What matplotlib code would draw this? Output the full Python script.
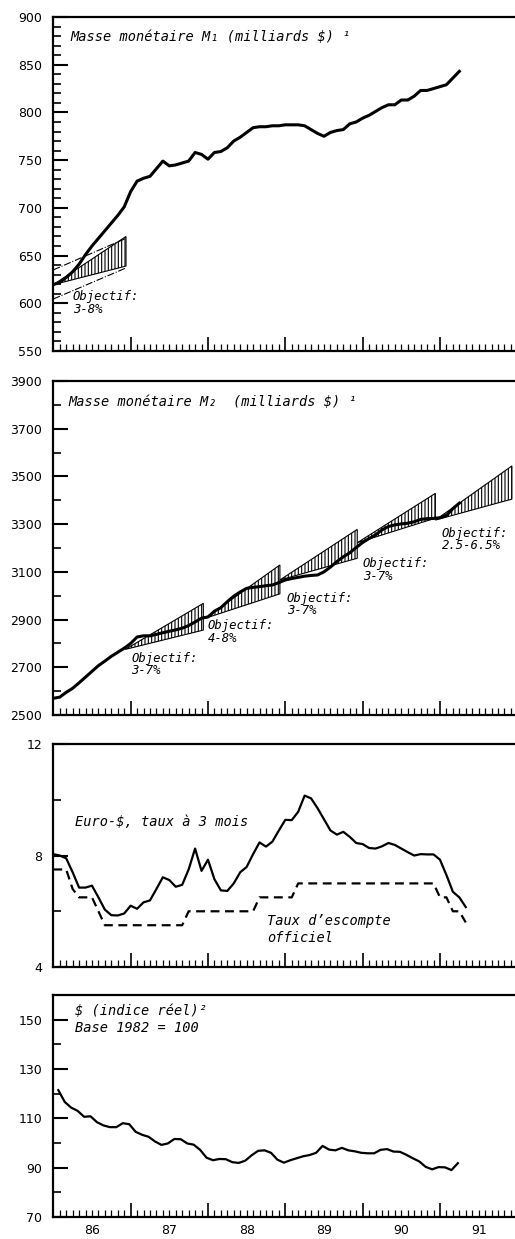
import matplotlib
matplotlib.use("Agg")
import matplotlib.pyplot as plt
import matplotlib.transforms as mtransforms
import numpy as np
from matplotlib.ticker import MultipleLocator, FixedLocator

# Monthly series, first value = January 1986
m1_values = [619.5, 622, 627, 633, 641, 651, 660, 668, 676, 684, 692, 701,
             717, 728, 731, 733, 741, 749, 744, 745, 747, 749, 758, 756,
             751, 758, 759, 763, 770, 774, 779, 784, 785, 785, 786, 786,
             787, 787, 787, 786, 782, 778, 775, 779, 781, 782, 788, 790,
             794, 797, 801, 805, 808, 808, 813, 813, 817, 823, 823, 825,
             827, 829, 836, 843]

m2_values = [2570, 2575, 2595, 2612, 2635, 2659, 2683, 2707, 2726, 2746, 2763, 2780,
             2800, 2827, 2832, 2832, 2838, 2845, 2851, 2857, 2864, 2875, 2890, 2906,
             2911, 2935, 2950, 2975, 2998, 3016, 3031, 3035, 3038, 3042, 3045, 3055,
             3066, 3072, 3077, 3082, 3085, 3087, 3100, 3120, 3143, 3163, 3180, 3202,
             3223, 3240, 3255, 3276, 3290, 3297, 3301, 3304, 3310, 3320, 3323, 3324,
             3327, 3336, 3365, 3388]

eurodollar_3m = [8.05, 8.0, 7.9, 7.4, 6.85, 6.85, 6.92, 6.5, 6.06, 5.86, 5.85, 5.92,
                 6.2, 6.09, 6.32, 6.39, 6.8, 7.22, 7.12, 6.88, 6.95, 7.5, 8.25, 7.45,
                 7.85, 7.15, 6.75, 6.73, 7.0, 7.4, 7.59, 8.05, 8.47, 8.32, 8.5, 8.9,
                 9.28, 9.27, 9.57, 10.15, 10.05, 9.7, 9.3, 8.9, 8.75, 8.85, 8.67, 8.45,
                 8.41, 8.27, 8.25, 8.33, 8.45, 8.38, 8.25, 8.12, 8.0, 8.05, 8.04, 8.04,
                 7.85, 7.3, 6.7, 6.5, 6.15]

discount_rate = [7.5, 7.5, 7.5, 6.8, 6.5, 6.5, 6.5, 6.0, 5.5, 5.5, 5.5, 5.5,
                 5.5, 5.5, 5.5, 5.5, 5.5, 5.5, 5.5, 5.5, 5.5, 6.0, 6.0, 6.0,
                 6.0, 6.0, 6.0, 6.0, 6.0, 6.0, 6.0, 6.0, 6.5, 6.5, 6.5, 6.5,
                 6.5, 6.5, 7.0, 7.0, 7.0, 7.0, 7.0, 7.0, 7.0, 7.0, 7.0, 7.0,
                 7.0, 7.0, 7.0, 7.0, 7.0, 7.0, 7.0, 7.0, 7.0, 7.0, 7.0, 7.0,
                 6.5, 6.5, 6.0, 6.0, 5.6]

# real dollar index, starts early February 1986
dollar_real_index = [121.4, 116.6, 114.3, 113.0, 110.6, 110.8, 108.4, 107.1, 106.4, 106.4,
                     108.0, 107.6, 104.5, 103.3, 102.5, 100.6, 99.2, 99.8, 101.6, 101.5,
                     99.8, 99.3, 97.2, 94.0, 93.0, 93.5, 93.4, 92.2, 91.9, 92.8,
                     95.0, 96.8, 97.0, 96.0, 93.2, 92.0, 93.0, 93.8, 94.6, 95.1,
                     96.0, 98.8, 97.3, 97.0, 98.0, 97.0, 96.6, 96.0, 95.8, 95.8,
                     97.2, 97.5, 96.5, 96.4, 95.2, 93.8, 92.5, 90.3, 89.3, 90.2,
                     90.1, 89.0, 91.8]

# M1 target cone 1986 and tunnel
m1_cone_x = [1986.0, 1986.94]
m1_cone_base = 619.5
m1_cone_upper = 670
m1_cone_lower = 639
m1_tunnel_upper = [635, 668]
m1_tunnel_lower = [604.5, 637]

# M2 target cones
m2_cone_start = [1986.93, 1987.96, 1988.93, 1989.93, 1990.94]
m2_cone_end = [1987.94, 1988.93, 1989.93, 1990.94, 1991.93]
m2_cone_base = [2775, 2905, 3066, 3222, 3317]
m2_cone_upper = [2968, 3129, 3278, 3429, 3544]
m2_cone_lower = [2856, 3008, 3157, 3325, 3405]
m2_cone_labels = ["3-7%", "4-8%", "3-7%", "3-7%", "2.5-6.5%"]

year_labels = ["86", "87", "88", "89", "90", "91"]

TXT = dict(family="DejaVu Sans Mono", style="oblique", fontsize=8.8)
TITLE = dict(family="DejaVu Sans Mono", style="oblique", fontsize=9.8)
plt.rcParams["hatch.linewidth"] = 0.8
plt.rcParams["font.family"] = "DejaVu Sans"


def months(series, start=1986.0):
    return start + np.arange(len(series)) / 12.0


def style_axis(ax, ylim, major, minor):
    ax.set_xlim(1986, 1991.97)
    ax.set_ylim(*ylim)
    ax.spines["right"].set_visible(False)
    for s in ("left", "top", "bottom"):
        ax.spines[s].set_linewidth(1.6)
    ax.xaxis.set_major_locator(MultipleLocator(1))
    ax.xaxis.set_minor_locator(MultipleLocator(1 / 12))
    ax.tick_params(axis="x", which="both", direction="in", labelbottom=False)
    ax.tick_params(axis="x", which="major", length=10, width=1.2)
    ax.tick_params(axis="x", which="minor", length=5, width=0.9)
    ax.yaxis.set_major_locator(FixedLocator(major))
    ax.yaxis.set_minor_locator(MultipleLocator(minor))
    ax.tick_params(axis="y", which="major", direction="in", length=11,
                   width=1.5, pad=8, labelsize=9)
    ax.tick_params(axis="y", which="minor", direction="in", length=6, width=1.2)


fig = plt.figure(figsize=(5.15, 12.39), dpi=100)
L, W = 0.1035, 0.8965
ax1 = fig.add_axes([L, 0.7167, W, 0.2696])
ax2 = fig.add_axes([L, 0.4229, W, 0.2696])
ax3 = fig.add_axes([L, 0.2195, W, 0.1800])
ax4 = fig.add_axes([L, 0.0178, W, 0.1792])

# --- M1
style_axis(ax1, (550, 900), np.arange(550, 901, 50), 10)
ax1.fill([m1_cone_x[0], m1_cone_x[1], m1_cone_x[1]],
         [m1_cone_base, m1_cone_upper, m1_cone_lower],
         facecolor="none", edgecolor="black", hatch="|||||", lw=0.8)
ax1.plot(m1_cone_x, m1_tunnel_upper, color="black", lw=0.8, ls="-.")
ax1.plot(m1_cone_x, m1_tunnel_lower, color="black", lw=0.8, ls="-.")
ax1.plot(months(m1_values), m1_values, color="black", lw=2.2)
ax1.text(1986.22, 886, "Masse monétaire M\u2081 (milliards $) \u00b9",
         va="top", ha="left", **TITLE)
ax1.text(1986.25, 614, "Objectif:\n3-8%", va="top", ha="left",
         linespacing=1.0, **TXT)

# --- M2
style_axis(ax2, (2500, 3900), np.arange(2500, 3901, 200), 100)
for x0, x1, b, up, lo in zip(m2_cone_start, m2_cone_end, m2_cone_base,
                             m2_cone_upper, m2_cone_lower):
    ax2.fill([x0, x1, x1], [b, up, lo], facecolor="none", edgecolor="black",
             hatch="|||||", lw=0.8)
ax2.plot(months(m2_values), m2_values, color="black", lw=2.2)
label_pos = [(1987.01, 2765), (1988.0, 2902), (1989.02, 3017),
             (1990.0, 3162), (1991.02, 3289)]
for (lx, ly), lab in zip(label_pos, m2_cone_labels):
    ax2.text(lx, ly, "Objectif:\n" + lab, va="top", ha="left",
             linespacing=0.95, **TXT)
ax2.text(1986.2, 3842, "Masse monétaire M\u2082  (milliards $) \u00b9",
         va="top", ha="left", **TITLE)

# --- interest rates
style_axis(ax3, (4, 12), [4, 8, 12], 2)
ax3.plot(months(eurodollar_3m), eurodollar_3m, color="black", lw=1.6)
ax3.plot(months(discount_rate), discount_rate, color="black", lw=1.6,
         dashes=(4, 2.5))
ax3.text(1986.28, 9.45, "Euro-$, taux à 3 mois", va="top", ha="left", **TITLE)
ax3.text(1988.76, 5.9, "Taux d\u2019escompte\nofficiel", va="top", ha="left",
         linespacing=1.25, **TITLE)

# --- real dollar
style_axis(ax4, (70, 160), np.arange(70, 151, 20), 10)
ax4.plot(months(dollar_real_index, 1986.065), dollar_real_index,
         color="black", lw=1.6)
ax4.text(1986.28, 156.5, "$ (indice réel)\u00b2\nBase 1982 = 100", va="top",
         ha="left", linespacing=1.3, **TITLE)
trans = mtransforms.blended_transform_factory(ax4.transData, ax4.transAxes)
for i, lab in enumerate(year_labels):
    ax4.text(1986.5 + i, -0.03, lab, transform=trans, ha="center", va="top",
             fontsize=9)

fig.savefig("out.png", dpi=100)
